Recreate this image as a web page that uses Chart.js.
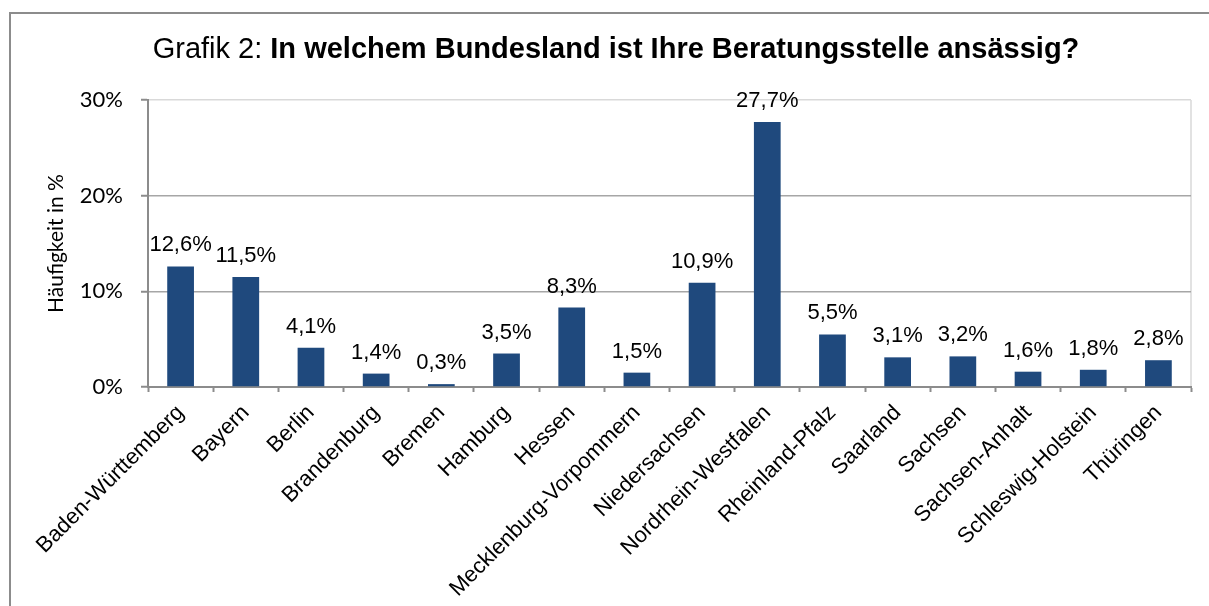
<!DOCTYPE html>
<html>
<head>
<meta charset="utf-8">
<script src="https://cdn.jsdelivr.net/npm/chart.js@4/dist/chart.umd.min.js"></script>
<style>
  html, body { margin: 0; padding: 0; background: #fff; }
  #wrap { width: 1209px; height: 606px; position: relative; }
</style>
</head>
<body>
<div id="wrap"><canvas id="chart1"></canvas></div>
<script>
const laender = ['Baden-Württemberg', 'Bayern', 'Berlin', 'Brandenburg', 'Bremen', 'Hamburg', 'Hessen',
  'Mecklenburg-Vorpommern', 'Niedersachsen', 'Nordrhein-Westfalen', 'Rheinland-Pfalz', 'Saarland',
  'Sachsen', 'Sachsen-Anhalt', 'Schleswig-Holstein', 'Thüringen'];
const anteile = [12.6, 11.5, 4.1, 1.4, 0.3, 3.5, 8.3, 1.5, 10.9, 27.7, 5.5, 3.1, 3.2, 1.6, 1.8, 2.8];
const yTicks = [0, 10, 20, 30];

const titelNormal = 'Grafik 2: ';
const titelFett = 'In welchem Bundesland ist Ihre Beratungsstelle ansässig?';

const arial = '"Liberation Sans", Arial, sans-serif';
const calibri = 'Lato, "Open Sans", sans-serif';

const fmt = v => v.toFixed(1).replace('.', ',') + '%';

// Rahmen, Titel, rechte Begrenzung + Werte über den Balken
const deko = {
  id: 'deko',
  beforeDraw(chart) {
    const c = chart.ctx;
    c.save();
    c.strokeStyle = '#8c8c8c';
    c.lineWidth = 2;
    c.beginPath();
    c.moveTo(10, 606);
    c.lineTo(10, 13);
    c.lineTo(1209, 13);
    c.stroke();
    const a = chart.chartArea;
    c.strokeStyle = '#d9d9d9';
    c.lineWidth = 1.5;
    c.beginPath();
    c.moveTo(a.right, a.top);
    c.lineTo(a.right, a.bottom);
    c.stroke();
    // Titel
    c.fillStyle = '#000';
    c.textBaseline = 'alphabetic';
    c.font = '29px ' + arial;
    const w1 = c.measureText(titelNormal).width;
    c.font = 'bold 29px ' + arial;
    const w2 = c.measureText(titelFett).width;
    let x = 616 - (w1 + w2) / 2;
    c.font = '29px ' + arial;
    c.fillText(titelNormal, x, 58);
    c.font = 'bold 29px ' + arial;
    c.fillText(titelFett, x + w1, 58);
    c.restore();
  },
  afterDatasetsDraw(chart) {
    const c = chart.ctx;
    const meta = chart.getDatasetMeta(0);
    c.save();
    c.font = '22px ' + arial;
    c.fillStyle = '#000';
    c.textAlign = 'center';
    c.textBaseline = 'alphabetic';
    meta.data.forEach((bar, i) => {
      c.fillText(fmt(anteile[i]), bar.x, bar.y - 15);
    });
    c.restore();
  }
};

const bar_chart = document.getElementById('chart1').getContext('2d');
new Chart(bar_chart, {
  type: 'bar',
  data: {
    labels: laender,
    datasets: [{
      label: 'Häufigkeit in %',
      data: anteile,
      backgroundColor: '#1F497D',
      categoryPercentage: 1,
      barPercentage: 0.41
    }]
  },
  plugins: [deko],
  options: {
    responsive: true,
    maintainAspectRatio: false,
    animation: false,
    layout: { padding: { top: 100, right: 18, left: 0, bottom: 0 } },
    plugins: {
      legend: { display: false },
      tooltip: { enabled: false }
    },
    scales: {
      x: {
        grid: {
          drawOnChartArea: false,
          drawTicks: true,
          tickLength: 5,
          tickColor: '#8c8c8c',
          tickWidth: 2
        },
        border: { color: '#8c8c8c', width: 2 },
        ticks: {
          minRotation: 45,
          maxRotation: 45,
          padding: 8,
          color: '#000',
          font: { family: arial, size: 22 }
        },
        afterFit(scale) { scale.height = 219; }
      },
      y: {
        min: 0,
        max: 30,
        afterBuildTicks(scale) { scale.ticks = yTicks.map(v => ({ value: v })); },
        grid: {
          color: ctx => ctx.tick && ctx.tick.value === 30 ? '#d9d9d9' : (ctx.tick && ctx.tick.value === 0 ? 'rgba(0,0,0,0)' : '#a6a6a6'),
          lineWidth: 1.5,
          tickLength: 7,
          tickColor: '#8c8c8c',
          tickWidth: 2
        },
        border: { color: '#8c8c8c', width: 2 },
        ticks: {
          padding: 18,
          color: '#000',
          font: { family: calibri, size: 22 },
          callback: v => v + '%'
        },
        title: {
          display: true,
          text: 'Häufigkeit in %',
          color: '#000',
          font: { family: calibri, size: 21 },
          padding: { top: 44, bottom: 0 }
        },
        afterFit(scale) { scale.width = 148; }
      }
    }
  }
});
</script>
</body>
</html>
